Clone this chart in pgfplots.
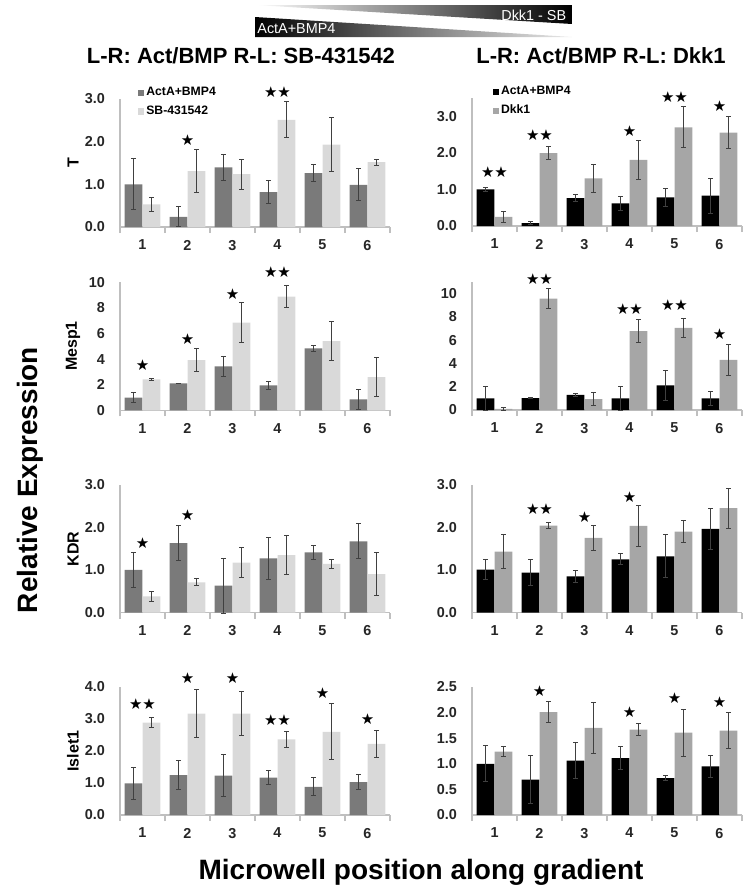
\documentclass[border=0pt]{standalone}
\usepackage{pgfplots}
\pgfplotsset{compat=1.18}
\usepackage{pgfplotstable}
\usepackage{fontspec}
\setmainfont{Liberation Sans}
\newfontfamily\symf{DejaVu Sans}
\definecolor{lda}{RGB}{122,122,122}
\definecolor{lli}{RGB}{217,217,217}
\definecolor{rda}{RGB}{0,0,0}
\definecolor{rli}{RGB}{166,166,166}
\definecolor{axisgray}{RGB}{191,191,191}
\definecolor{errc}{RGB}{64,64,64}
\definecolor{tickc}{RGB}{38,38,38}

% ---------------- data ----------------
\pgfplotstableread{
x a ae b be
1 1.00 0.60 0.53 0.17
2 0.24 0.23 1.31 0.50
3 1.40 0.31 1.24 0.35
4 0.82 0.28 2.51 0.42
5 1.26 0.20 1.93 0.63
6 0.99 0.38 1.52 0.07
}\LT
\pgfplotstableread{
x y s
2 2.04 ★
4 3.16 ★★
}\LTs
\pgfplotstableread{
x a ae b be
1 1.00 0.06 0.25 0.15
2 0.08 0.05 1.99 0.18
3 0.76 0.10 1.30 0.39
4 0.62 0.19 1.81 0.54
5 0.78 0.25 2.70 0.56
6 0.83 0.48 2.55 0.44
}\RT
\pgfplotstableread{
x y s
1 1.49 ★★
2 2.50 ★★
4 2.61 ★
5 3.53 ★★
6 3.27 ★
}\RTs
\pgfplotstableread{
x a ae b be
1 1.00 0.38 2.42 0.05
2 2.11 0.03 3.93 0.87
3 3.44 0.78 6.85 1.56
4 1.95 0.30 8.88 0.87
5 4.84 0.26 5.42 1.50
6 0.86 0.78 2.60 1.50
}\LM
\pgfplotstableread{
x y s
1 3.54 ★
2 5.60 ★
3 9.10 ★
4 10.8 ★★
}\LMs
\pgfplotstableread{
x a ae b be
1 1.00 1.00 0.09 0.14
2 1.03 0.02 9.57 0.83
3 1.31 0.12 0.94 0.53
4 1.00 1.06 6.77 1.00
5 2.11 1.31 7.06 0.81
6 1.00 0.60 4.30 1.30
}\RM
\pgfplotstableread{
x y s
2 11.3 ★★
4 8.70 ★★
5 9.06 ★★
6 6.50 ★
}\RMs
\pgfplotstableread{
x a ae b be
1 1.00 0.40 0.38 0.12
2 1.63 0.41 0.71 0.08
3 0.63 0.64 1.17 0.35
4 1.27 0.50 1.35 0.45
5 1.41 0.17 1.14 0.11
6 1.67 0.41 0.90 0.50
}\LK
\pgfplotstableread{
x y s
1 1.64 ★
2 2.29 ★
}\LKs
\pgfplotstableread{
x a ae b be
1 1.01 0.23 1.43 0.40
2 0.94 0.31 2.04 0.08
3 0.85 0.14 1.75 0.30
4 1.25 0.13 2.03 0.47
5 1.32 0.50 1.90 0.25
6 1.96 0.47 2.45 0.47
}\RK
\pgfplotstableread{
x y s
2 2.43 ★★
3 2.25 ★
4 2.72 ★
}\RKs
\pgfplotstableread{
x a ae b be
1 0.99 0.50 2.89 0.17
2 1.25 0.44 3.17 0.75
3 1.23 0.66 3.17 0.69
4 1.17 0.21 2.36 0.24
5 0.88 0.28 2.60 0.87
6 1.03 0.24 2.22 0.42
}\LI
\pgfplotstableread{
x y s
1 3.48 ★★
2 4.27 ★
3 4.27 ★
4 2.96 ★★
5 3.81 ★
6 2.99 ★
}\LIs
\pgfplotstableread{
x a ae b be
1 1.00 0.35 1.24 0.10
2 0.69 0.47 2.01 0.21
3 1.06 0.35 1.70 0.49
4 1.11 0.22 1.67 0.11
5 0.72 0.05 1.61 0.46
6 0.95 0.21 1.65 0.35
}\RI
\pgfplotstableread{
x y s
2 2.42 ★
4 2.01 ★
5 2.28 ★
6 2.20 ★
}\RIs

\pgfplotsset{
 panel/.style={
  scale only axis, width=135pt, height=64pt, anchor=south west,
  xmin=0.5, xmax=6.5, ymin=0, clip=false,
  axis x line*=bottom, axis y line*=left,
  axis line style={draw=axisgray, line width=0.6pt},
  xtick={1,...,6}, major tick length=0pt,
  extra x ticks={0.5,1.5,...,6.5}, extra x tick labels={},
  extra x tick style={major tick length=3pt, tick align=outside, tick style={draw=axisgray, line width=0.6pt}},
  tick label style={font=\bfseries\fontsize{7.2}{8}\selectfont, text=tickc},
  /pgf/number format/assume math mode=true,
  xticklabel style={yshift=-3pt},
  yticklabel style={xshift=-4pt, /pgf/number format/fixed, /pgf/number format/fixed zerofill, /pgf/number format/precision=1},
  legend image code/.code={\fill[##1] (0pt,-1.6pt) rectangle (3.2pt,1.6pt);},
  legend style={draw=none, fill=none, inner sep=0pt, font=\bfseries\fontsize{6.1}{7}\selectfont, row sep=1.6pt, anchor=north west, nodes={inner sep=1pt}},
  legend cell align=left,
 },
 errs/.style={error bars/y dir=both, error bars/y explicit,
   error bars/error bar style={line width=0.5pt, draw=errc},
   error bars/error mark options={rotate=90, mark size=1.1pt, line width=0.5pt, draw=errc}},
 stars/.style={forget plot, draw=none, mark=none, nodes near coords, point meta=explicit symbolic,
   every node near coord/.append style={font=\symf\fontsize{7.5}{8}\selectfont, inner sep=0pt, yshift=-3pt, text=black}},
}

\newcommand{\panelplots}[4]{%
  \addplot[ybar, bar width=0.39, bar shift=0, draw=none, fill=#2, errs] table[x expr=\thisrow{x}-0.2,y=a,y error=ae]{#1};
  \addplot[ybar, bar width=0.39, bar shift=0, draw=none, fill=#3, errs] table[x expr=\thisrow{x}+0.2,y=b,y error=be]{#1};
  \addplot[stars] table[x=x,y=y,meta=s]{#4};
}

\begin{document}
\begin{tikzpicture}
\useasboundingbox (0,0) rectangle (375pt,-447pt);

% gradient banner
\shade[left color=black, right color=black!8] (127.5pt,-8.5pt) -- (127.5pt,-18.5pt) -- (286pt,-18.5pt) -- cycle;
\shade[left color=white, right color=black] (127.5pt,-2.5pt) -- (286pt,-2.5pt) -- (286pt,-12pt) -- cycle;
\node[anchor=base west, text=white, inner sep=0pt, font=\fontsize{7.2}{8}\selectfont] at (128.5pt,-16.5pt) {ActA+BMP4};
\node[anchor=base east, text=white, inner sep=0pt, font=\fontsize{7.2}{8}\selectfont] at (283.3pt,-10.3pt) {Dkk1 - SB};

% column titles
\node[anchor=base, inner sep=0pt, font=\bfseries\fontsize{11}{13}\selectfont] at (120.5pt,-31.5pt) {L-R: Act/BMP R-L: SB-431542};
\node[anchor=base, inner sep=0pt, font=\bfseries\fontsize{11}{13}\selectfont] at (300.5pt,-31.5pt) {L-R: Act/BMP R-L: Dkk1};

% row labels
\node[rotate=90, inner sep=0pt, font=\bfseries\fontsize{8}{9}\selectfont] at (36.5pt,-81.5pt) {T};
\node[rotate=90, inner sep=0pt, font=\bfseries\fontsize{8}{9}\selectfont] at (36.5pt,-173pt) {Mesp1};
\node[rotate=90, inner sep=0pt, font=\bfseries\fontsize{8}{9}\selectfont] at (36.5pt,-274.5pt) {KDR};
\node[rotate=90, inner sep=0pt, font=\bfseries\fontsize{8}{9}\selectfont] at (36.5pt,-375.5pt) {Islet1};

% global labels
\node[rotate=90, inner sep=0pt, font=\bfseries\fontsize{14}{16}\selectfont] at (15pt,-240pt) {Relative Expression};
\node[inner sep=0pt, font=\bfseries\fontsize{14}{16}\selectfont] at (210.5pt,-436pt) {Microwell position along gradient};

% ---- row 1: T ----
\begin{axis}[panel, at={(60pt,-113.5pt)}, ymax=3, ytick={0,1,2,3}, legend style={at={(0.065,1.11)}}]
\panelplots{\LT}{lda}{lli}{\LTs}
\legend{ActA+BMP4, SB-431542}
\end{axis}
\begin{axis}[panel, at={(236pt,-113pt)}, ymax=3.5, ytick={0,1,2,3}, legend style={at={(0.075,1.11)}}]
\panelplots{\RT}{rda}{rli}{\RTs}
\legend{ActA+BMP4, Dkk1}
\end{axis}

% ---- row 2: Mesp1 ----
\begin{axis}[panel, at={(60pt,-205.2pt)}, ymax=10, ytick={0,2,...,10}, yticklabel style={/pgf/number format/precision=0}]
\panelplots{\LM}{lda}{lli}{\LMs}
\end{axis}
\begin{axis}[panel, at={(236pt,-205pt)}, ymax=11, ytick={0,2,...,10}, yticklabel style={/pgf/number format/precision=0}]
\panelplots{\RM}{rda}{rli}{\RMs}
\end{axis}

% ---- row 3: KDR ----
\begin{axis}[panel, at={(60pt,-306.3pt)}, ymax=3, ytick={0,1,2,3}]
\panelplots{\LK}{lda}{lli}{\LKs}
\end{axis}
\begin{axis}[panel, at={(236pt,-306.3pt)}, ymax=3, ytick={0,1,2,3}]
\panelplots{\RK}{rda}{rli}{\RKs}
\end{axis}

% ---- row 4: Islet1 ----
\begin{axis}[panel, at={(60pt,-407.5pt)}, ymax=4, ytick={0,1,2,3,4}]
\panelplots{\LI}{lda}{lli}{\LIs}
\end{axis}
\begin{axis}[panel, at={(236pt,-407.5pt)}, ymax=2.5, ytick={0,0.5,...,2.5}]
\panelplots{\RI}{rda}{rli}{\RIs}
\end{axis}
\end{tikzpicture}
\end{document}
